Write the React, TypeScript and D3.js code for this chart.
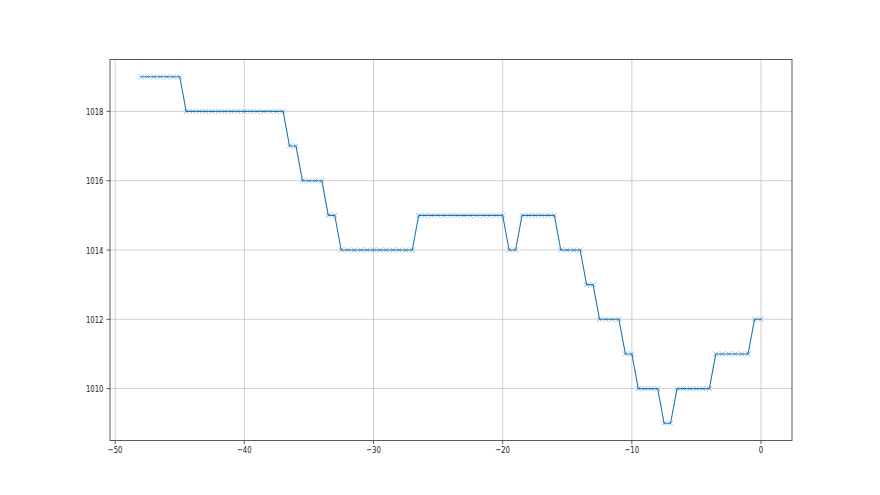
import React from "react";
import * as d3 from "d3";

const W = 880;
const H = 495;

// x positions: -48 to 0 in steps of 0.5 (97 points)
const runLengths = [7, 16, 2, 4, 2, 12, 14, 2, 6, 4, 2, 4, 2, 4, 2, 6, 6, 2];
const runValues = [1019, 1018, 1017, 1016, 1015, 1014, 1015, 1014, 1015, 1014, 1013, 1012, 1011, 1010, 1009, 1010, 1011, 1012];
const xStart = -48;
const xStep = 0.5;

const xTicks = [-50, -40, -30, -20, -10, 0];
const yTicks = [1010, 1012, 1014, 1016, 1018];

const values: number[] = [];
runLengths.forEach((n, i) => {
  for (let k = 0; k < n; k++) values.push(runValues[i]);
});
const data = values.map((v, i) => ({ x: xStart + i * xStep, y: v }));

const fmt = (v: number) => (v < 0 ? "\u2212" + Math.abs(v) : String(v));

export default function App() {
  const left = 110, right = 792, top = 59.4, bottom = 440.6;
  const xMin = d3.min(data, d => d.x)!;
  const xMax = d3.max(data, d => d.x)!;
  const yMin = d3.min(data, d => d.y)!;
  const yMax = d3.max(data, d => d.y)!;
  const xm = (xMax - xMin) * 0.05;
  const ym = (yMax - yMin) * 0.05;
  const x = d3.scaleLinear().domain([xMin - xm, xMax + xm]).range([left, right]);
  const y = d3.scaleLinear().domain([yMin - ym, yMax + ym]).range([bottom, top]);
  const line = d3.line<{ x: number; y: number }>().x(d => x(d.x)).y(d => y(d.y));
  const ms = 2.5;
  const font = "'DejaVu Sans', sans-serif";
  const fs = 9.6;
  const sx = 0.72;

  return (
    <svg width={W} height={H} style={{ position: "absolute", left: 0, top: 0 }}>
      <rect x={0} y={0} width={W} height={H} fill="#fff" />
      <g>
        {xTicks.map(t => (
          <line key={"gx" + t} x1={x(t)} x2={x(t)} y1={top} y2={bottom} stroke="#b0b0b0" strokeWidth={0.8} opacity={0.75} />
        ))}
        {yTicks.map(t => (
          <line key={"gy" + t} x1={left} x2={right} y1={y(t)} y2={y(t)} stroke="#b0b0b0" strokeWidth={0.8} opacity={0.75} />
        ))}
      </g>
      <path d={line(data)!} fill="none" stroke="#1f77b4" strokeWidth={1.1} strokeLinejoin="round" />
      <g stroke="#1f77b4" strokeWidth={0.7} opacity={0.7}>
        {data.map((d, i) => (
          <path key={i} d={`M${x(d.x) - ms},${y(d.y) - ms}L${x(d.x) + ms},${y(d.y) + ms}M${x(d.x) - ms},${y(d.y) + ms}L${x(d.x) + ms},${y(d.y) - ms}`} />
        ))}
      </g>
      <rect x={left} y={top} width={right - left} height={bottom - top} fill="none" stroke="#333" strokeWidth={0.8} />
      {xTicks.map(t => (
        <g key={"xt" + t}>
          <line x1={x(t)} x2={x(t)} y1={bottom} y2={bottom + 3.5} stroke="#333" strokeWidth={0.8} />
          <g transform={`translate(${x(t)},${bottom + 12.5}) scale(${sx},1)`}>
            <text textAnchor="middle" fontFamily={font} fontSize={fs} fill="#222">{fmt(t)}</text>
          </g>
        </g>
      ))}
      {yTicks.map(t => (
        <g key={"yt" + t}>
          <line x1={left - 3.5} x2={left} y1={y(t)} y2={y(t)} stroke="#333" strokeWidth={0.8} />
          <g transform={`translate(${left - 6.5},${y(t) + 3.5}) scale(${sx},1)`}>
            <text textAnchor="end" fontFamily={font} fontSize={fs} fill="#222">{fmt(t)}</text>
          </g>
        </g>
      ))}
    </svg>
  );
}
